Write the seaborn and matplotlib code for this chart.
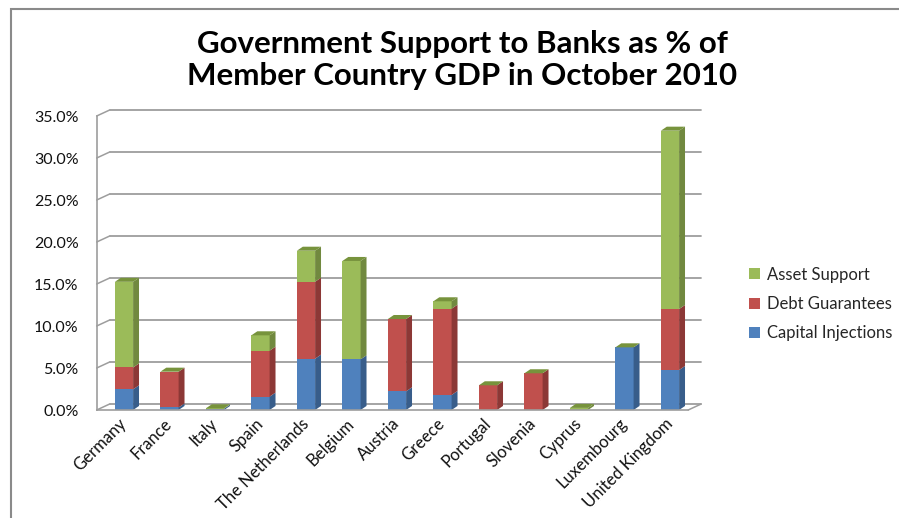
import matplotlib
matplotlib.use("Agg")
import matplotlib.pyplot as plt
import seaborn as sns
import pandas as pd
from matplotlib.patches import Polygon, Rectangle, Patch

countries = ["Germany", "France", "Italy", "Spain", "The Netherlands", "Belgium",
             "Austria", "Greece", "Portugal", "Slovenia", "Cyprus", "Luxembourg",
             "United Kingdom"]
capital_injections = [2.46, 0.30, 0.15, 1.59, 6.11, 6.03, 2.22, 1.79, 0.0, 0.0, 0.0, 7.46, 4.76]
debt_guarantees = [2.60, 4.26, 0.0, 5.47, 9.16, 0.0, 8.61, 10.27, 2.94, 4.37, 0.0, 0.0, 7.26]
asset_support = [10.20, 0.0, 0.05, 1.83, 3.69, 11.71, 0.0, 0.88, 0.0, 0.0, 0.25, 0.0, 21.23]
y_ticks = [0, 5, 10, 15, 20, 25, 30, 35]
title = "Government Support to Banks as % of\nMember Country GDP in October 2010"

series_names = ["Capital Injections", "Debt Guarantees", "Asset Support"]
front_colors = ["#4F81BD", "#C0504D", "#9BBB59"]
side_colors = ["#385D8A", "#8C3836", "#71893F"]
top_color = "#77933C"

sns.set_theme(style="white")
plt.rcParams["font.family"] = ["Lato", "DejaVu Sans"]

df = pd.DataFrame({"country": countries,
                   "capital": capital_injections,
                   "debt": debt_guarantees,
                   "asset": asset_support})
df["c1"] = df["capital"]
df["c2"] = df["c1"] + df["debt"]
df["c3"] = df["c2"] + df["asset"]

fig = plt.figure(figsize=(8.99, 5.18), dpi=100)
ax = fig.add_axes([96.7 / 899, 1 - 410 / 518, 13 * 45.5 / 899, 294 / 518])

XL, XR = -0.6, 12.4
BAR_W = 0.4
BDX, BDY = 0.13, 0.48      # bar depth (data units)
WDX, WDY = 0.285, 0.714    # wall depth (data units)
grid_c = "#9d9d9d"

# back wall gridlines + side wall diagonals
for v in y_ticks:
    ax.plot([XL + WDX, XR + WDX], [v + WDY, v + WDY], color=grid_c, lw=1.3,
            clip_on=False, zorder=0)
    ax.plot([XL, XL + WDX], [v, v + WDY], color=grid_c, lw=1.1,
            clip_on=False, zorder=0)
ax.plot([XR, XR + WDX], [0, WDY], color=grid_c, lw=1.1, clip_on=False, zorder=0)

# stacked bars (cumulative layers drawn back to front)
layers = [("c3", 2), ("c2", 1), ("c1", 0)]
bar_patches = {}
for col, idx in layers:
    n_before = len(ax.patches)
    sns.barplot(data=df, x="country", y=col, color=front_colors[idx], width=BAR_W,
                saturation=1, edgecolor="none", linewidth=0, ax=ax, zorder=2)
    bar_patches[idx] = ax.patches[n_before:]

bottoms = [[0.0] * len(countries), list(df["c1"]), list(df["c2"])]
tops = [list(df["c1"]), list(df["c2"]), list(df["c3"])]
ref_patches = bar_patches[2]
for idx in range(3):
    for i, p in enumerate(ref_patches):
        b, t = bottoms[idx][i], tops[idx][i]
        if t - b <= 0:
            continue
        x1 = p.get_x() + p.get_width()
        ax.add_patch(Polygon([(x1, b), (x1 + BDX, b + BDY), (x1 + BDX, t + BDY), (x1, t)],
                             closed=True, facecolor=side_colors[idx], edgecolor="none",
                             zorder=2, clip_on=False))
for i, p in enumerate(ref_patches):
    x0, w, t = p.get_x(), p.get_width(), tops[2][i]
    ax.add_patch(Polygon([(x0, t), (x0 + BDX, t + BDY), (x0 + w + BDX, t + BDY), (x0 + w, t)],
                         closed=True, facecolor=top_color, edgecolor="none",
                         zorder=2, clip_on=False))

ax.set_xlim(XL, XR)
ax.set_ylim(0, 35)
ax.set_xlabel("")
ax.set_ylabel("")
ax.set_yticks(y_ticks)
ax.set_yticklabels([f"{v:.1f}%" for v in y_ticks], fontsize=11.5, color="#111111")
ax.set_xticks(range(len(countries)))
ax.set_xticklabels(countries, fontsize=12, color="#111111", rotation=45,
                   ha="right", va="center", rotation_mode="anchor")
ax.set_xticks([XL + k for k in range(len(countries) + 1)], minor=True)
ax.tick_params(axis="x", which="major", length=0, pad=8)
ax.tick_params(axis="x", which="minor", length=5, color=grid_c, width=1.1, direction="out")
ax.tick_params(axis="y", length=5, color=grid_c, width=1.1, direction="out", pad=8)
for s in ["top", "right"]:
    ax.spines[s].set_visible(False)
for s in ["left", "bottom"]:
    ax.spines[s].set_color(grid_c)
    ax.spines[s].set_linewidth(1.2)
ax.set_facecolor("none")

fig.text(462 / 899, 1 - 60 / 518, title, ha="center", va="center", fontsize=22.5,
         fontweight="bold", color="black", linespacing=1.2)

handles = [Patch(facecolor=front_colors[i], edgecolor="none", label=series_names[i])
           for i in [2, 1, 0]]
fig.legend(handles=handles, loc="center left", bbox_to_anchor=(741 / 899, 1 - 304 / 518),
           frameon=False, fontsize=12, labelspacing=0.8, handlelength=0.65,
           handleheight=0.65, handletextpad=0.4, borderpad=0)

fig.patches.append(Rectangle((11 / 899, -0.1), 1.2, 1 - 9 / 518 + 0.1,
                             transform=fig.transFigure, fill=False,
                             edgecolor="#8a8a8a", linewidth=1.5, zorder=0))

fig.savefig("out.png", dpi=100)
